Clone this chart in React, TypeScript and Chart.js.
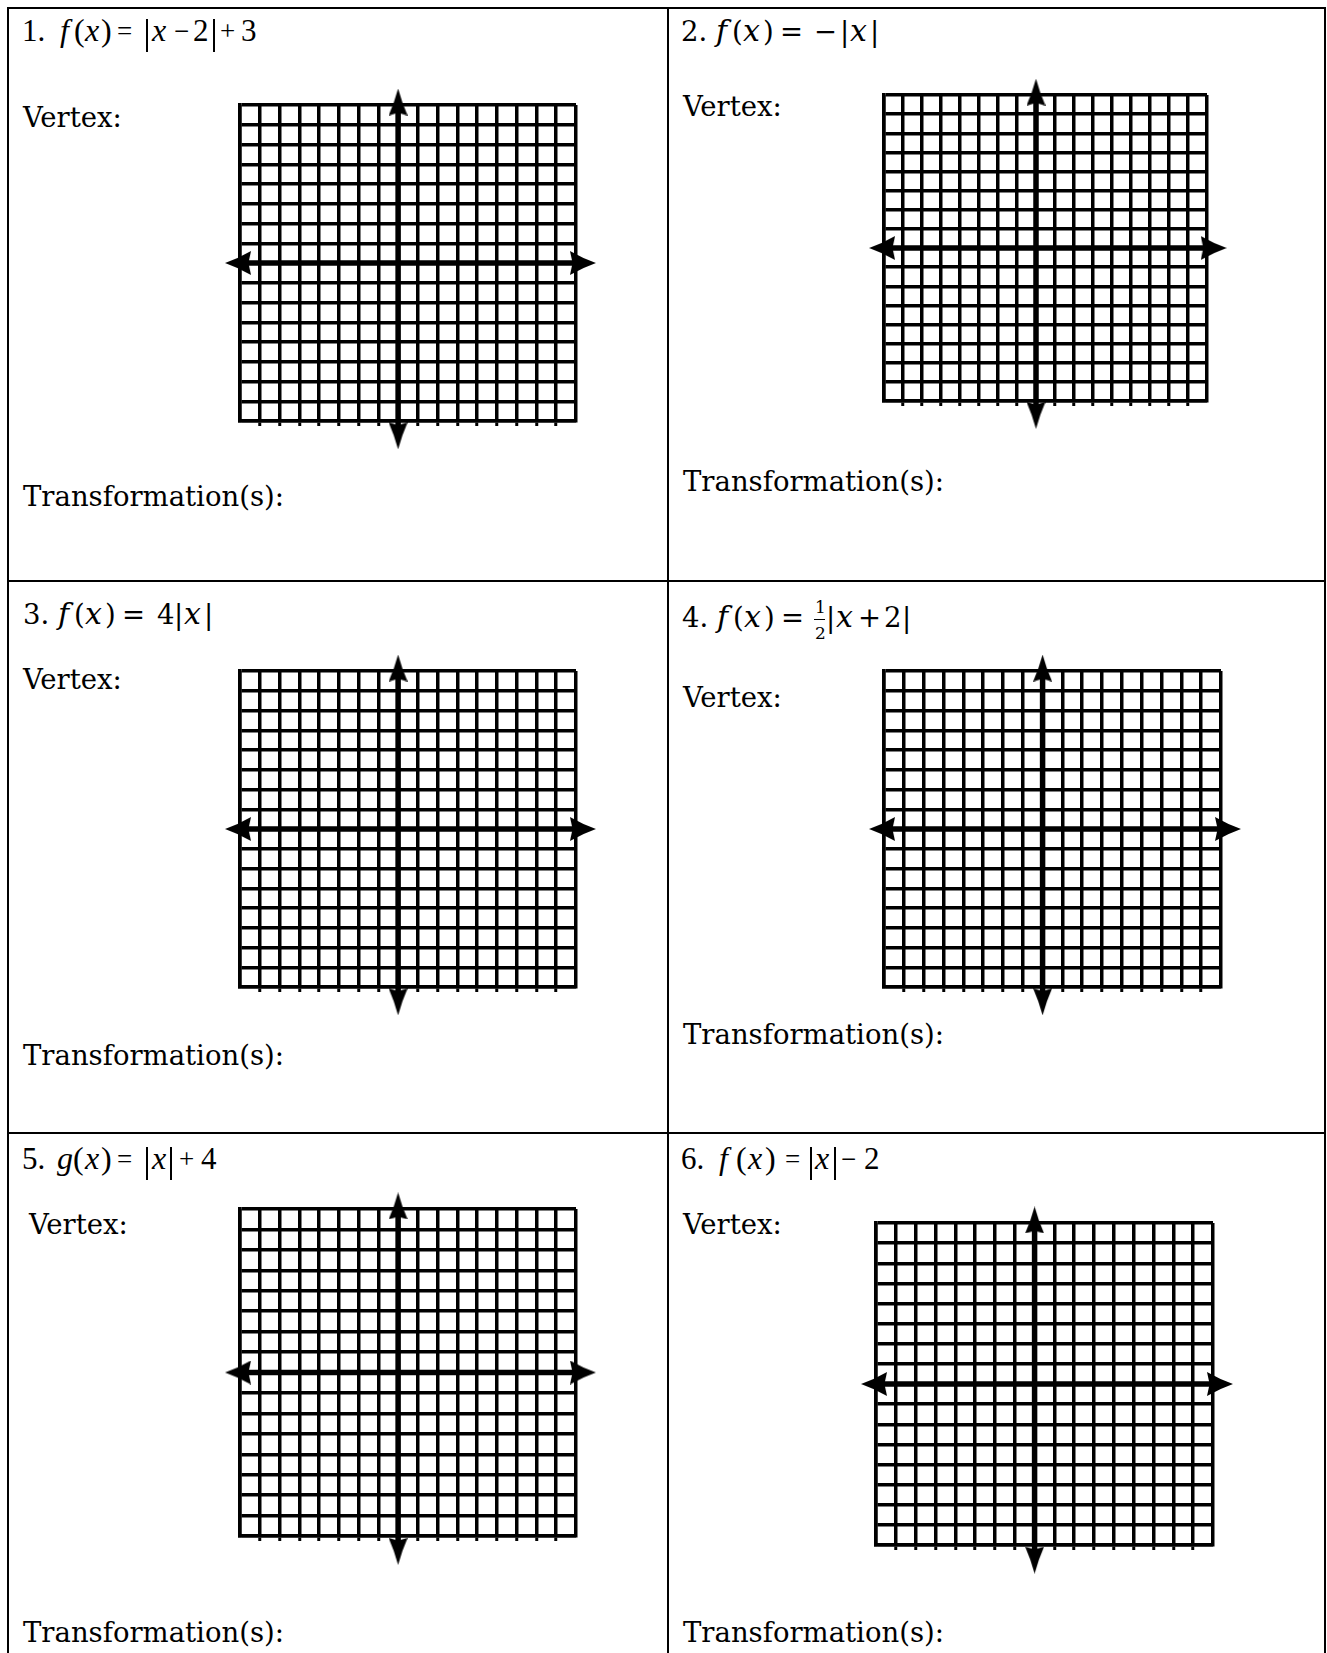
import React, { useEffect, useRef } from "react";
import { Chart, registerables } from "chart.js";

Chart.register(...registerables);

// ---------------- data ----------------
const X_MIN = -8;
const X_MAX = 9;
const Y_MIN = -8;
const Y_MAX = 8;
const X_STEP = 1;
const Y_STEP = 1;
const X_AXIS_ENDS = [-8.1, 9.35];
const Y_AXIS_ENDS = [8.15, -8.75];
const AXIS_ZERO = [0, 0];
const VERTEX_LABEL = "Vertex:";
const TRANSFORM_LABEL = "Transformation(s):";

// ---------------- layout ----------------
const P = 34;
const TICK_LEN = 5;
const GRIDS = [
  { left: 240, top: 105, w: 336, h: 316 },
  { left: 884, top: 95, w: 323, h: 306 },
  { left: 240, top: 671, w: 336, h: 316 },
  { left: 884, top: 671, w: 337, h: 316 },
  { left: 240, top: 1209, w: 336, h: 327 },
  { left: 876, top: 1223, w: 337, h: 322 },
];

const TIMES = "'Liberation Serif', 'Times New Roman', serif";
const DEJAVU = "'DejaVu Serif', serif";
const K_TIMES = 0.8375;
const K_DEJAVU = 0.846;

function makeArrow(dir: string, len: number, wid: number): HTMLCanvasElement {
  const c = document.createElement("canvas");
  const horiz = dir === "left" || dir === "right";
  c.width = horiz ? len : wid;
  c.height = horiz ? wid : len;
  const g = c.getContext("2d")!;
  g.translate(c.width / 2, c.height / 2);
  const rot: Record<string, number> = { right: 0, down: Math.PI / 2, left: Math.PI, up: -Math.PI / 2 };
  g.rotate(rot[dir]);
  g.beginPath();
  g.moveTo(len / 2, 0);
  g.quadraticCurveTo(-len * 0.02, -wid * 0.2, -len / 2, -wid / 2);
  g.lineTo(-len * 0.4, 0);
  g.lineTo(-len / 2, wid / 2);
  g.quadraticCurveTo(-len * 0.02, wid * 0.2, len / 2, 0);
  g.closePath();
  g.fillStyle = "#000";
  g.fill();
  return c;
}

function GridChart({ left, top, w, h }: { left: number; top: number; w: number; h: number }) {
  const ref = useRef<HTMLCanvasElement>(null);
  useEffect(() => {
    const canvas = ref.current!;
    const aL = makeArrow("left", 26, 24);
    const aR = makeArrow("right", 26, 24);
    const aU = makeArrow("up", 27, 19);
    const aD = makeArrow("down", 27, 19);
    const lastX = Math.round((X_MAX - X_MIN) / X_STEP);
    const chart = new Chart(canvas, {
      type: "scatter",
      data: {
        datasets: [
          {
            data: X_AXIS_ENDS.map((x, i) => ({ x, y: AXIS_ZERO[i] })),
            showLine: true,
            borderColor: "#000",
            borderWidth: 5.5,
            pointStyle: [aL, aR] as any,
            pointRadius: 24,
            pointBorderWidth: 0,
            clip: false as any,
          },
          {
            data: Y_AXIS_ENDS.map((y, i) => ({ x: AXIS_ZERO[i], y })),
            showLine: true,
            borderColor: "#000",
            borderWidth: 5.5,
            pointStyle: [aU, aD] as any,
            pointRadius: 24,
            pointBorderWidth: 0,
            clip: false as any,
          },
        ],
      },
      options: {
        responsive: false,
        animation: false,
        events: [],
        layout: { padding: P },
        plugins: { legend: { display: false }, tooltip: { enabled: false }, title: { display: false } },
        scales: {
          x: {
            type: "linear",
            min: X_MIN,
            max: X_MAX,
            ticks: { display: false, stepSize: X_STEP, autoSkip: false },
            grid: {
              color: "#000",
              lineWidth: 3.5,
              drawTicks: true,
              tickLength: TICK_LEN,
              tickWidth: 3,
              tickColor: (c: any) => (c.index === 0 || c.index === lastX ? "rgba(0,0,0,0)" : "#000"),
            },
            border: { display: true, color: "#000", width: 3.5 },
          },
          y: {
            type: "linear",
            min: Y_MIN,
            max: Y_MAX,
            ticks: { display: false, stepSize: Y_STEP, autoSkip: false },
            grid: { color: "#000", lineWidth: 3.5, drawTicks: false },
            border: { display: true, color: "#000", width: 3.5 },
          },
        },
      },
    });
    const ca = chart.chartArea;
    canvas.style.left = left - ca.left + "px";
    canvas.style.top = top - ca.top + "px";
    return () => chart.destroy();
  }, [left, top, w, h]);
  return (
    <canvas
      ref={ref}
      width={w + 2 * P}
      height={h + 2 * P + TICK_LEN}
      style={{ position: "absolute", left: left - P, top: top - P }}
    />
  );
}

type Glyph = [string, number, string?, number?];

function Glyphs({ items, base, size, font, k }: { items: Glyph[]; base: number; size: number; font: string; k: number }) {
  return (
    <>
      {items.map(([t, x, st, sz], i) => {
        const s = sz || size;
        return (
          <span
            key={i}
            style={{
              position: "absolute",
              left: x,
              top: base - k * s,
              fontFamily: font,
              fontSize: s,
              lineHeight: 1,
              fontStyle: st === "i" ? "italic" : "normal",
              whiteSpace: "pre",
              color: "#000",
            }}
          >
            {t}
          </span>
        );
      })}
    </>
  );
}

function Bars({ xs, base }: { xs: number[]; base: number }) {
  return (
    <>
      {xs.map((x, i) => (
        <div key={i} style={{ position: "absolute", left: x, top: base - 22, width: 1.5, height: 33, background: "#000" }} />
      ))}
    </>
  );
}

function Label({ x, base, text }: { x: number; base: number; text: string }) {
  return <Glyphs items={[[text, x]]} base={base} size={27.5} font={DEJAVU} k={K_DEJAVU} />;
}

function Line({ l, t, w, h }: { l: number; t: number; w: number; h: number }) {
  return <div style={{ position: "absolute", left: l, top: t, width: w, height: h, background: "#000" }} />;
}

const RIGHT = 1324;
const OP = 27; // operator size for Times formulas

export default function App() {
  useEffect(() => {
    document.documentElement.style.overflow = "hidden";
    document.body.style.overflow = "hidden";
  }, []);
  return (
    <div
      style={{
        position: "fixed",
        left: 0,
        top: 0,
        width: 1327,
        height: 1653,
        overflow: "hidden",
        background: "#fff",
      }}
    >
      {/* table borders */}
      <Line l={7} t={7} w={RIGHT - 7 + 2} h={2} />
      <Line l={7} t={7} w={2} h={1660} />
      <Line l={RIGHT} t={7} w={2} h={1660} />
      <Line l={667} t={7} w={2} h={1660} />
      <Line l={7} t={580} w={RIGHT - 7 + 2} h={2} />
      <Line l={7} t={1132} w={RIGHT - 7 + 2} h={2} />

      {/* 1. f(x) = |x - 2| + 3 */}
      <Glyphs
        base={41}
        size={32}
        font={TIMES}
        k={K_TIMES}
        items={[
          ["1.", 22, "", 31],
          ["f", 60, "i"],
          ["(", 74],
          ["x", 85, "i"],
          [")", 101],
          ["=", 117, "", OP],
          ["x", 152, "i"],
          ["\u2212", 174, "", OP],
          ["2", 193, "", 31],
          ["+", 220, "", OP],
          ["3", 241, "", 31],
        ]}
      />
      <Bars xs={[146, 213]} base={41} />

      {/* 2. f(x) = -|x| */}
      <Glyphs
        base={41}
        size={27.5}
        font={DEJAVU}
        k={K_DEJAVU}
        items={[
          ["2.", 681],
          ["f", 716, "i", 30],
          ["(", 732],
          ["x", 743, "i", 30],
          [")", 763],
          ["=", 780],
          ["\u2212", 814],
          ["|", 840],
          ["x", 850, "i", 30],
          ["|", 870],
        ]}
      />

      {/* 3. f(x) = 4|x| */}
      <Glyphs
        base={624}
        size={27.5}
        font={DEJAVU}
        k={K_DEJAVU}
        items={[
          ["3.", 23],
          ["f", 58, "i", 30],
          ["(", 74],
          ["x", 85, "i", 30],
          [")", 105],
          ["=", 122],
          ["4", 157],
          ["|", 174],
          ["x", 184, "i", 30],
          ["|", 204],
        ]}
      />

      {/* 4. f(x) = 1/2 |x + 2| */}
      <Glyphs
        base={627}
        size={27.5}
        font={DEJAVU}
        k={K_DEJAVU}
        items={[
          ["4.", 682],
          ["f", 717, "i", 30],
          ["(", 733],
          ["x", 744, "i", 30],
          [")", 764],
          ["=", 781],
          ["|", 826],
          ["x", 836, "i", 30],
          ["+", 858],
          ["2", 884],
          ["|", 902],
        ]}
      />
      <Glyphs base={613} size={17} font={DEJAVU} k={K_DEJAVU} items={[["1", 815]]} />
      <div style={{ position: "absolute", left: 814, top: 619, width: 11, height: 1, background: "#000" }} />
      <Glyphs base={639} size={17} font={DEJAVU} k={K_DEJAVU} items={[["2", 815]]} />

      {/* 5. g(x) = |x| + 4 */}
      <Glyphs
        base={1169}
        size={32}
        font={TIMES}
        k={K_TIMES}
        items={[
          ["5.", 22, "", 31],
          ["g", 57, "i"],
          ["(", 73],
          ["x", 85, "i"],
          [")", 101],
          ["=", 117, "", OP],
          ["x", 152, "i"],
          ["+", 179, "", OP],
          ["4", 201, "", 31],
        ]}
      />
      <Bars xs={[146, 170]} base={1169} />

      {/* 6. f(x) = |x| - 2 */}
      <Glyphs
        base={1169}
        size={32}
        font={TIMES}
        k={K_TIMES}
        items={[
          ["6.", 681, "", 31],
          ["f", 719, "i"],
          ["(", 736],
          ["x", 748, "i"],
          [")", 765],
          ["=", 785, "", OP],
          ["x", 815, "i"],
          ["\u2212", 841, "", OP],
          ["2", 864, "", 31],
        ]}
      />
      <Bars xs={[810, 834]} base={1169} />

      {/* labels */}
      <Label x={23} base={127} text={VERTEX_LABEL} />
      <Label x={683} base={116} text={VERTEX_LABEL} />
      <Label x={23} base={689} text={VERTEX_LABEL} />
      <Label x={683} base={707} text={VERTEX_LABEL} />
      <Label x={29} base={1234} text={VERTEX_LABEL} />
      <Label x={683} base={1234} text={VERTEX_LABEL} />

      <Label x={23} base={506} text={TRANSFORM_LABEL} />
      <Label x={683} base={491} text={TRANSFORM_LABEL} />
      <Label x={23} base={1065} text={TRANSFORM_LABEL} />
      <Label x={683} base={1044} text={TRANSFORM_LABEL} />
      <Label x={23} base={1642} text={TRANSFORM_LABEL} />
      <Label x={683} base={1642} text={TRANSFORM_LABEL} />

      {GRIDS.map((g, i) => (
        <GridChart key={i} left={g.left} top={g.top} w={g.w} h={g.h} />
      ))}
    </div>
  );
}
